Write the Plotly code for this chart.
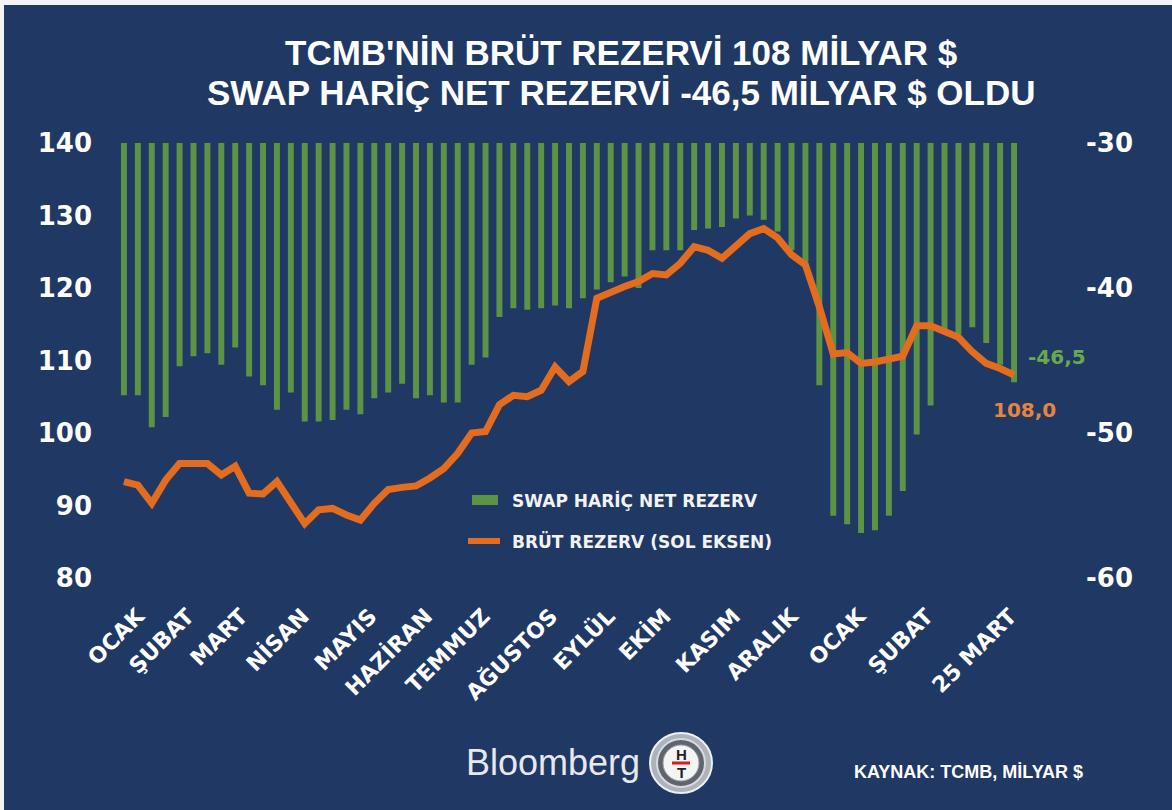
import plotly.graph_objects as go
import pandas as pd

# ---------------- data ----------------
weeks = pd.date_range("2021-01-01", "2022-03-25", freq="7D").strftime("%Y-%m-%d").tolist()

net_reserve = [
    -47.4, -47.4, -49.6, -48.9, -45.4, -44.7, -44.5, -45.3, -44.1, -46.1,
    -46.7, -48.4, -47.2, -49.2, -49.2, -49.1, -48.4, -48.7, -47.6, -47.2,
    -46.6, -47.6, -47.4, -47.9, -47.9, -45.3, -44.8, -42.0, -41.4, -41.5,
    -41.4, -41.2, -41.4, -40.7, -40.1, -39.6, -39.2, -40.0, -37.4, -37.4,
    -37.4, -36.0, -35.9, -35.8, -35.2, -35.0, -35.3, -36.1, -37.4, -38.2,
    -46.7, -55.7, -56.3, -56.9, -56.7, -55.7, -54.0, -50.1, -48.1, -43.1,
    -43.2, -42.7, -43.8, -45.3, -46.5,
]

gross_reserve = [
    93.3, 92.8, 90.3, 93.5, 95.8, 95.8, 95.8, 94.2, 95.4, 91.7,
    91.6, 93.3, 90.5, 87.5, 89.4, 89.6, 88.7, 88.0, 90.3, 92.2,
    92.5, 92.7, 93.8, 95.1, 97.2, 100.0, 100.2, 103.9, 105.2, 105.0,
    105.9, 109.1, 107.1, 108.5, 118.6, 119.5, 120.2, 120.9, 122.0, 121.8,
    123.4, 125.7, 125.2, 124.1, 125.7, 127.5, 128.2, 126.9, 124.6, 123.2,
    117.4, 110.9, 111.1, 109.6, 109.8, 110.2, 110.6, 114.8, 114.8, 114.0,
    113.2, 111.2, 109.6, 108.9, 108.0,
]

tick_dates = [
    "2021-01-08", "2021-02-02", "2021-03-01", "2021-04-01", "2021-05-05",
    "2021-06-02", "2021-07-01", "2021-08-04", "2021-09-02", "2021-09-30",
    "2021-11-04", "2021-12-03", "2022-01-06", "2022-02-09", "2022-03-23",
]
tick_labels = [
    "OCAK", "ŞUBAT", "MART", "NİSAN", "MAYIS", "HAZİRAN", "TEMMUZ", "AĞUSTOS",
    "EYLÜL", "EKİM", "KASIM", "ARALIK", "OCAK", "ŞUBAT", "25 MART",
]
left_ticks = [80, 90, 100, 110, 120, 130, 140]
right_ticks = [-60, -50, -40, -30]

series_names = ["SWAP HARİÇ NET REZERV", "BRÜT REZERV (SOL EKSEN)"]
title_lines = ["TCMB'NİN BRÜT REZERVİ 108 MİLYAR $", "SWAP HARİÇ NET REZERVİ -46,5 MİLYAR $ OLDU"]
source_text = "KAYNAK: TCMB, MİLYAR $"

# ---------------- style ----------------
W, H = 1172, 810
ML, MR, MT, MB = 117, 151, 143, 232
PW, PH = W - ML - MR, H - MT - MB
BG = "#1f3864"
GREEN = "#5c9345"
ORANGE = "#e36c1e"
WHITE = "#ffffff"
BOLD = "DejaVu Sans, Verdana, sans-serif"
COND = "Liberation Sans, Arial, sans-serif"


def px2x(px):
    return (px - ML) / PW


def py2y(py):
    return (H - MB - py) / PH


fig = go.Figure()
fig.add_trace(go.Bar(
    x=weeks, y=net_reserve, yaxis="y", name=series_names[0],
    marker=dict(color=GREEN, line=dict(width=0)),
    width=3.0 * 86400000, showlegend=False,
))
fig.add_trace(go.Scatter(
    x=weeks, y=gross_reserve, yaxis="y2", name=series_names[1], mode="lines",
    line=dict(color=ORANGE, width=7), showlegend=False,
))

fig.update_layout(
    width=W, height=H,
    margin=dict(l=ML, r=MR, t=MT, b=MB, pad=0),
    paper_bgcolor=BG, plot_bgcolor=BG,
    showlegend=False,
    xaxis=dict(
        type="date", range=["2020-12-28 12:00", "2022-03-28 12:00"],
        tickmode="array", tickvals=tick_dates, ticktext=tick_labels,
        tickangle=-45, showgrid=False, zeroline=False, showline=False, ticks="",
        tickfont=dict(family=BOLD, size=22, color=WHITE, weight=700),
        ticklabelstandoff=20,
    ),
    yaxis=dict(
        range=[-60, -30], side="right", tickmode="array", tickvals=right_ticks,
        ticktext=[str(v) for v in right_ticks],
        showgrid=False, zeroline=False, showline=False, ticks="",
        tickfont=dict(family=BOLD, size=26, color=WHITE, weight=700),
        ticklabelstandoff=64,
    ),
    yaxis2=dict(
        range=[80, 140], side="left", overlaying="y", tickmode="array", tickvals=left_ticks,
        ticktext=[str(v) for v in left_ticks],
        showgrid=False, zeroline=False, showline=False, ticks="",
        tickfont=dict(family=BOLD, size=26, color=WHITE, weight=700),
        ticklabelstandoff=24,
    ),
)

shapes = []
# light outer frame strips (top and left)
shapes.append(dict(type="rect", xref="paper", yref="paper", x0=px2x(0), x1=px2x(W), y0=py2y(5), y1=py2y(0),
                   fillcolor="#f3f3f5", line=dict(width=0), layer="below"))
shapes.append(dict(type="rect", xref="paper", yref="paper", x0=px2x(0), x1=px2x(4), y0=py2y(H), y1=py2y(0),
                   fillcolor="#f3f3f5", line=dict(width=0), layer="below"))
# legend keys
shapes.append(dict(type="rect", xref="paper", yref="paper", x0=px2x(472), x1=px2x(498), y0=py2y(505), y1=py2y(495),
                   fillcolor=GREEN, line=dict(width=0)))
shapes.append(dict(type="line", xref="paper", yref="paper", x0=px2x(468), x1=px2x(500), y0=py2y(541), y1=py2y(541),
                   line=dict(color=ORANGE, width=6)))
# HT logo (approximation)
shapes.append(dict(type="circle", xref="paper", yref="paper", x0=px2x(650), x1=px2x(712), y0=py2y(793), y1=py2y(733),
                   fillcolor="#aeb2ba", line=dict(color="#eef0f4", width=2)))
shapes.append(dict(type="circle", xref="paper", yref="paper", x0=px2x(657), x1=px2x(705), y0=py2y(787), y1=py2y(739),
                   fillcolor="#60646c", line=dict(color="#d8dadf", width=2)))
shapes.append(dict(type="circle", xref="paper", yref="paper", x0=px2x(663), x1=px2x(699), y0=py2y(781), y1=py2y(745),
                   fillcolor="#f4f4f4", line=dict(color="#9a9ea6", width=1)))
shapes.append(dict(type="line", xref="paper", yref="paper", x0=px2x(672), x1=px2x(690), y0=py2y(763), y1=py2y(763),
                   line=dict(color="#d02020", width=3)))
fig.update_layout(shapes=shapes)

ann = []
ann.append(dict(xref="paper", yref="paper", x=px2x(621), y=py2y(52), text=title_lines[0], showarrow=False,
                xanchor="center", yanchor="middle", font=dict(family=COND, size=35, color=WHITE, weight=700)))
ann.append(dict(xref="paper", yref="paper", x=px2x(621), y=py2y(92), text=title_lines[1], showarrow=False,
                xanchor="center", yanchor="middle", font=dict(family=COND, size=35, color=WHITE, weight=700)))
ann.append(dict(xref="paper", yref="paper", x=px2x(510), y=py2y(500), text=series_names[0], showarrow=False,
                xanchor="left", yanchor="middle", font=dict(family=BOLD, size=17, color="#f2f2f2", weight=700)))
ann.append(dict(xref="paper", yref="paper", x=px2x(510), y=py2y(541), text=series_names[1], showarrow=False,
                xanchor="left", yanchor="middle", font=dict(family=BOLD, size=17, color="#f2f2f2", weight=700)))
ann.append(dict(xref="x", yref="y", x=weeks[-1], y=net_reserve[-1],
                text=f"{net_reserve[-1]:.1f}".replace(".", ","), showarrow=False,
                xanchor="left", yanchor="middle", xshift=12, yshift=25,
                font=dict(family=BOLD, size=20, color="#6aa84f", weight=700)))
ann.append(dict(xref="x", yref="y2", x=weeks[-1], y=gross_reserve[-1],
                text=f"{gross_reserve[-1]:.1f}".replace(".", ","), showarrow=False,
                xanchor="center", yanchor="middle", xshift=10, yshift=-35,
                font=dict(family=BOLD, size=20, color="#e8843e", weight=700)))
ann.append(dict(xref="paper", yref="paper", x=px2x(553), y=py2y(762), text="Bloomberg", showarrow=False,
                xanchor="center", yanchor="middle", font=dict(family=COND, size=36, color="#e6e8ee")))
ann.append(dict(xref="paper", yref="paper", x=px2x(681), y=py2y(754), text="H", showarrow=False,
                xanchor="center", yanchor="middle", font=dict(family=COND, size=15, color="#222222", weight=700)))
ann.append(dict(xref="paper", yref="paper", x=px2x(681), y=py2y(772), text="T", showarrow=False,
                xanchor="center", yanchor="middle", font=dict(family=COND, size=15, color="#222222", weight=700)))
ann.append(dict(xref="paper", yref="paper", x=px2x(968), y=py2y(772), text=source_text, showarrow=False,
                xanchor="center", yanchor="middle", font=dict(family=COND, size=18, color=WHITE, weight=700)))
fig.update_layout(annotations=ann)

fig.write_html(
    "out.html",
    config={"displayModeBar": False},
    post_script="document.body.style.margin='0';document.body.style.overflow='hidden';",
)
